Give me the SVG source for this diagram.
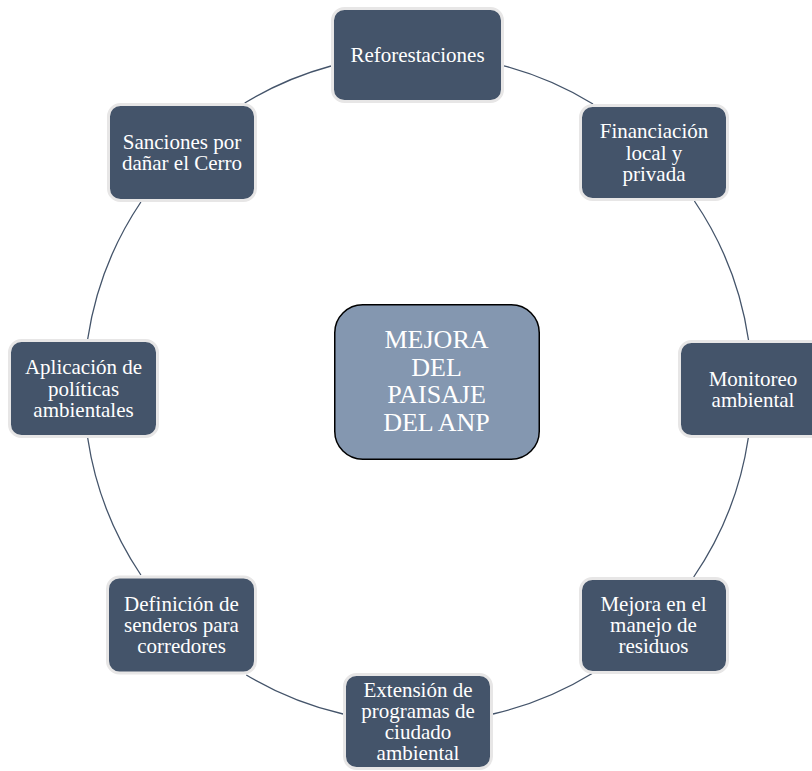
<svg xmlns="http://www.w3.org/2000/svg" width="812" height="771" viewBox="0 0 812 771">
<style>
.node{fill:#44546a;stroke:#e7e6e6;stroke-width:3}
.center{fill:#8497b0;stroke:#000000;stroke-width:1.5}
.t{font-size:21px;fill:#ffffff;text-anchor:middle}
.tc{font-size:26px;fill:#ffffff;text-anchor:middle}
.arc{fill:none;stroke:#44546a;stroke-width:1.3}
</style>
<rect width="812" height="771" fill="#ffffff"/>
<g id="connectors">
<path class="arc" d="M504 65.8 A334 334 0 0 1 593 104"/>
<path class="arc" d="M694.4 201 A334 334 0 0 1 748.5 340"/>
<path class="arc" d="M748.3 438 A334 334 0 0 1 693.7 577"/>
<path class="arc" d="M593 673 A334 334 0 0 1 493 714"/>
<path class="arc" d="M343 714 A334 334 0 0 1 246.3 675"/>
<path class="arc" d="M140.9 575 A334 334 0 0 1 87.7 438"/>
<path class="arc" d="M87.7 339 A334 334 0 0 1 140.9 202"/>
<path class="arc" d="M244.7 103 A334 334 0 0 1 331 66"/>
</g>
<g font-family="Liberation Serif, Times New Roman, serif">
<g id="center">
<rect class="center" x="334.75" y="304.75" width="204.5" height="154.5" rx="28"/>
<text class="tc" x="436.5" y="348">MEJORA</text>
<text class="tc" x="436.5" y="376">DEL</text>
<text class="tc" x="436.5" y="403">PAISAJE</text>
<text class="tc" x="436.5" y="431">DEL ANP</text>
</g>
<g id="reforestaciones">
<rect class="node" x="332.5" y="8.5" width="170" height="93" rx="12"/>
<text class="t" x="417.5" y="62">Reforestaciones</text>
</g>
<g id="financiacion">
<rect class="node" x="580.5" y="105.5" width="147" height="94" rx="12"/>
<text class="t" x="654" y="138.2">Financiación</text>
<text class="t" x="654" y="159.5">local y</text>
<text class="t" x="654" y="180.8">privada</text>
</g>
<g id="monitoreo">
<rect class="node" x="679.5" y="341.5" width="147" height="95" rx="12"/>
<text class="t" x="753" y="385.5">Monitoreo</text>
<text class="t" x="753" y="406.8">ambiental</text>
</g>
<g id="residuos">
<rect class="node" x="580.5" y="578.5" width="147" height="94" rx="12"/>
<text class="t" x="653.5" y="610.7">Mejora en el</text>
<text class="t" x="653.5" y="632">manejo de</text>
<text class="t" x="653.5" y="653.3">residuos</text>
</g>
<g id="extension">
<rect class="node" x="344.5" y="674.5" width="147" height="94" rx="12"/>
<text class="t" x="418" y="696.5">Extensión de</text>
<text class="t" x="418" y="717.8">programas de</text>
<text class="t" x="418" y="739.1">ciudado</text>
<text class="t" x="418" y="760.4">ambiental</text>
</g>
<g id="senderos">
<rect class="node" x="107.5" y="577" width="148" height="96" rx="12"/>
<text class="t" x="181.5" y="611">Definición de</text>
<text class="t" x="181.5" y="632">senderos para</text>
<text class="t" x="181.5" y="653">corredores</text>
</g>
<g id="politicas">
<rect class="node" x="9.5" y="340.5" width="148" height="96" rx="12"/>
<text class="t" x="83.5" y="374.2">Aplicación de</text>
<text class="t" x="83.5" y="395.5">políticas</text>
<text class="t" x="83.5" y="416.8">ambientales</text>
</g>
<g id="sanciones">
<rect class="node" x="108.5" y="104.5" width="147" height="96" rx="12"/>
<text class="t" x="182" y="149">Sanciones por</text>
<text class="t" x="182" y="170.3">dañar el Cerro</text>
</g>
</g>
</svg>
